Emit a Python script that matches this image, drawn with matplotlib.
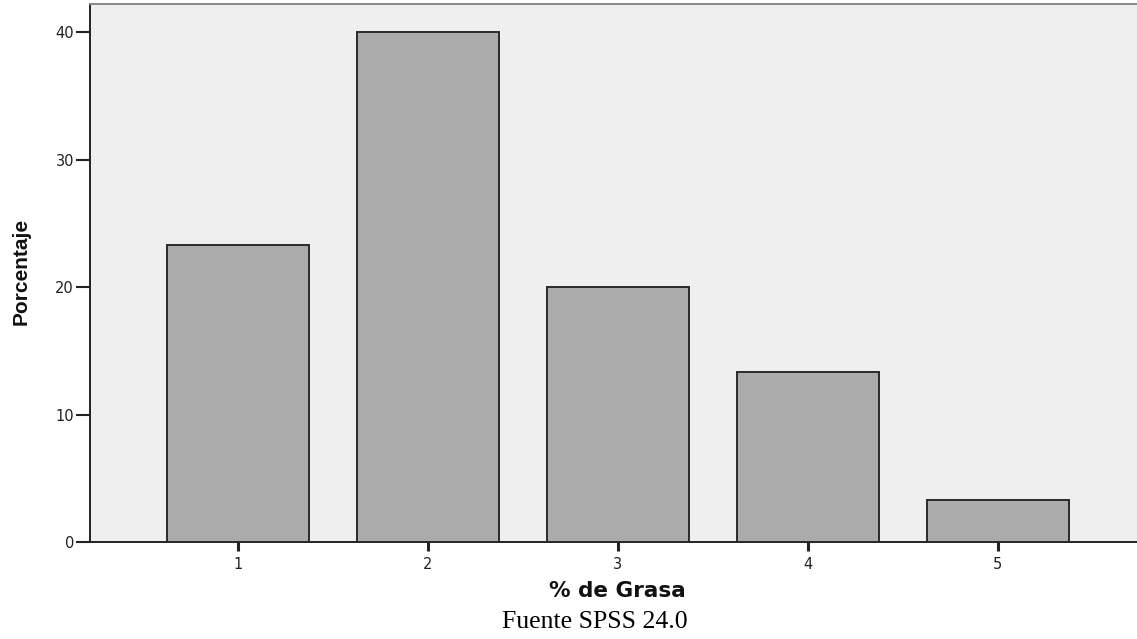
import matplotlib
matplotlib.use("Agg")
import matplotlib.pyplot as plt

plt.rcParams["font.family"] = ["DejaVu Sans"]

categories = ["1", "2", "3", "4", "5"]
percentages = [23.33, 40.0, 20.0, 13.33, 3.33]
yticks = [0, 10, 20, 30, 40]

fig = plt.figure(figsize=(11.37, 6.39), dpi=100)
ax = fig.add_axes([90/1137, 1 - 542/639, 1 - 90/1137, (542 - 4)/639])
ax.set_facecolor("#efefef")

xpos = list(range(1, len(categories) + 1))
ax.bar(xpos, percentages, width=0.747, color="#ababab", edgecolor="#2a2a2a", linewidth=1.4, zorder=3)

ax.set_xlim(0.221, 5.732)
ax.set_ylim(0, 42.2)
ax.set_xticks(xpos)
ax.set_xticklabels(categories, family="DejaVu Sans")
ax.set_yticks(yticks)
ax.set_yticklabels([str(v) for v in yticks], family="DejaVu Sans")
ax.tick_params(axis="y", labelsize=10.5, width=1.5, length=10, color="#222222", labelcolor="#222222", pad=1.5)
ax.tick_params(axis="x", labelsize=10.5, width=2.2, length=6.5, color="#222222", labelcolor="#222222", pad=4)

for side in ["left", "bottom"]:
    ax.spines[side].set_linewidth(1.4)
    ax.spines[side].set_color("#222222")
ax.spines["top"].set_color("#888888")
ax.spines["top"].set_linewidth(1.4)
ax.spines["right"].set_visible(False)

fig.text(21/1137, 1 - 271/639, "Porcentaje", fontsize=15, fontweight="bold", family="Liberation Sans",
         rotation=90, ha="center", va="center", color="#111111")
fig.text(617/1137, 1 - 591/639, "% de Grasa", fontsize=15.5, fontweight="bold", family="DejaVu Sans",
         ha="center", va="center", color="#111111")
fig.text(595/1137, 1 - 622/639, "Fuente SPSS 24.0", family="Liberation Serif", fontsize=18.5,
         ha="center", va="center")

fig.savefig("out.png", dpi=100)
